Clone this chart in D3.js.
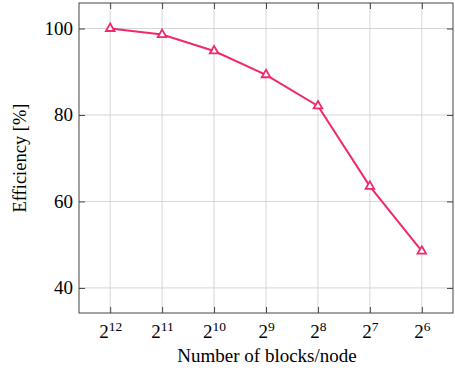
<!DOCTYPE html>
<html>
<head>
<meta charset="utf-8">
<script src="https://cdn.jsdelivr.net/npm/d3@7"></script>
<style>
  body { margin: 0; background: #fff; }
  svg { display: block; }
</style>
</head>
<body>
<div id="chart"></div>
<script>
// blocks per node, written as powers of two
var exponents = [12, 11, 10, 9, 8, 7, 6]
var efficiency = [100, 98.6, 94.8, 89.3, 82.1, 63.5, 48.5]
var yTicks = [40, 60, 80, 100]

var width = 455, height = 371
var pad = { top: 3, right: 2, bottom: 58, left: 79 }
var lineColour = '#f0286e'
var axisColour = '#444'
var gridColour = '#d6d6d6'
var serif = "'Liberation Serif', 'Times New Roman', Times, serif"

var svg = d3.select('#chart').append('svg')
  .attr('width', width)
  .attr('height', height)
  .style('font-family', serif)

// x is categorical (index), drawn left to right
var xScale = d3.scaleLinear()
  .domain([-0.6, exponents.length - 1 + 0.6])
  .range([pad.left, width - pad.right])

var yScale = d3.scaleLinear()
  .domain([34.2, 105.9])
  .range([height - pad.bottom, pad.top])

var x0 = pad.left, x1 = width - pad.right
var y0 = height - pad.bottom, y1 = pad.top

// grid
var grid = svg.append('g').classed('grid', true)
grid.selectAll('.vgrid')
  .data(d3.range(exponents.length))
  .enter().append('line')
  .attr('x1', d => xScale(d)).attr('x2', d => xScale(d))
  .attr('y1', y0).attr('y2', y1)
  .style('stroke', gridColour).style('stroke-width', 1)
grid.selectAll('.hgrid')
  .data(yTicks)
  .enter().append('line')
  .attr('x1', x0).attr('x2', x1)
  .attr('y1', d => yScale(d)).attr('y2', d => yScale(d))
  .style('stroke', gridColour).style('stroke-width', 1)

// axes: ticks point inwards, mirrored on the opposite side
var tickLen = 6
var xAxisBottom = svg.append('g')
  .attr('transform', 'translate(0,' + y0 + ')')
  .call(d3.axisBottom(xScale).tickValues(d3.range(exponents.length)).tickSize(-tickLen).tickSizeOuter(0).tickFormat(''))
var xAxisTop = svg.append('g')
  .attr('transform', 'translate(0,' + y1 + ')')
  .call(d3.axisTop(xScale).tickValues(d3.range(exponents.length)).tickSize(-tickLen).tickSizeOuter(0).tickFormat(''))
var yAxisLeft = svg.append('g')
  .attr('transform', 'translate(' + x0 + ',0)')
  .call(d3.axisLeft(yScale).tickValues(yTicks).tickSize(-tickLen).tickSizeOuter(0).tickFormat(''))
var yAxisRight = svg.append('g')
  .attr('transform', 'translate(' + x1 + ',0)')
  .call(d3.axisRight(yScale).tickValues(yTicks).tickSize(-tickLen).tickSizeOuter(0).tickFormat(''))

;[xAxisBottom, xAxisTop, yAxisLeft, yAxisRight].forEach(function(a) {
  a.select('.domain').remove()
  a.selectAll('.tick line').style('stroke', axisColour).style('stroke-width', 1)
})

// frame
svg.append('rect')
  .attr('x', x0).attr('y', y1)
  .attr('width', x1 - x0).attr('height', y0 - y1)
  .style('fill', 'none').style('stroke', axisColour).style('stroke-width', 1)

// tick labels
svg.append('g').selectAll('text')
  .data(yTicks)
  .enter().append('text')
  .attr('x', x0 - 6)
  .attr('y', d => yScale(d) + 6.5)
  .attr('text-anchor', 'end')
  .attr('font-family', serif)
  .style('font-size', '19px')
  .text(d => d)

var xLabels = svg.append('g').selectAll('text')
  .data(exponents)
  .enter().append('text')
  .attr('x', (d, i) => xScale(i) + 0.5)
  .attr('y', y0 + 24.5)
  .attr('text-anchor', 'middle')
  .attr('font-family', serif)
  .style('font-size', '19px')
xLabels.append('tspan').text('2')
xLabels.append('tspan')
  .attr('dy', -6.5)
  .style('font-size', '13.5px')
  .text(d => d)

// axis titles
svg.append('text')
  .attr('x', (x0 + x1) / 2 + 1)
  .attr('y', height - 9)
  .attr('text-anchor', 'middle')
  .attr('font-family', serif)
  .style('font-size', '19px')
  .text('Number of blocks/node')

svg.append('text')
  .attr('transform', 'translate(26,' + ((y0 + y1) / 2) + ') rotate(-90)')
  .attr('text-anchor', 'middle')
  .attr('font-family', serif)
  .style('font-size', '18.5px')
  .text('Efficiency [%]')

// data
var dataset = efficiency.map(function(v, i) { return { idx: i, value: v } })

svg.append('path')
  .datum(dataset)
  .attr('d', d3.line().x(d => xScale(d.idx)).y(d => yScale(d.value)))
  .style('fill', 'none')
  .style('stroke', lineColour)
  .style('stroke-width', 2)

svg.append('g').selectAll('path')
  .data(dataset)
  .enter().append('path')
  .attr('transform', d => 'translate(' + xScale(d.idx) + ',' + yScale(d.value) + ')')
  .attr('d', d3.symbol().type(d3.symbolTriangle).size(32))
  .style('fill', '#fff')
  .style('stroke', lineColour)
  .style('stroke-width', 1.8)
</script>
</body>
</html>
